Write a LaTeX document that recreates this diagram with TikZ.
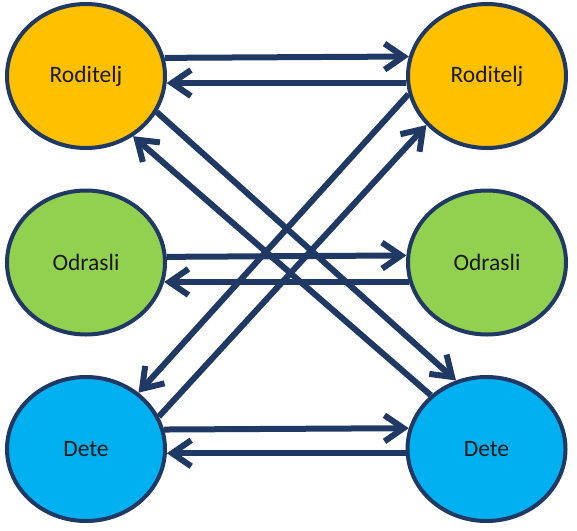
\documentclass[tikz,border=0pt]{standalone}
\usepackage{fontspec}
\setmainfont{Carlito}
\usetikzlibrary{arrows.meta,shapes.geometric}
\definecolor{navy}{HTML}{1F3864}
\definecolor{orng}{HTML}{FFC000}
\definecolor{grn}{HTML}{92D050}
\definecolor{blu}{HTML}{00B0F0}
\begin{document}
\begin{tikzpicture}[x=1pt,y=-1pt,
  person/.style={ellipse, draw=navy, line width=4pt, inner sep=0pt,
    minimum width=158pt, minimum height=144pt,
    font=\fontsize{23.5}{27}\selectfont, text=black!90},
  link/.style={draw=navy, line width=6pt,
    -{Straight Barb[length=19pt,width=26pt]}}]
\useasboundingbox (0,0) rectangle (577,530);
\node[person, fill=orng] (pL) at (86,76) {Roditelj};
\node[person, fill=orng] (pR) at (487,76) {Roditelj};
\node[person, fill=grn] (aL) at (86,262.5) {Odrasli};
\node[person, fill=grn] (aR) at (487,262.5) {Odrasli};
\node[person, fill=blu] (cL) at (86,449) {Dete};
\node[person, fill=blu] (cR) at (486.5,449) {Dete};
% horizontal
\draw[link] (pL.13.6) -- (pR.166.4);
\draw[link] (pR.185) -- (pL.-5);
\draw[link] (aL.4.6) -- (aR.175.4);
\draw[link] (aR.194) -- (aL.-14);
\draw[link] (cL.14.8) -- (cR.165.2);
\draw[link] (cR.183.9) -- (cL.-3.9);
% diagonal
\draw[link] (pL.-27.2) -- (cR.114);
\draw[link] (cR.136.8) -- (pL.-52.2);
\draw[link] (pR.193.5) -- (cL.47);
\draw[link] (cL.24.2) -- (pR.219.8);
\end{tikzpicture}
\end{document}
